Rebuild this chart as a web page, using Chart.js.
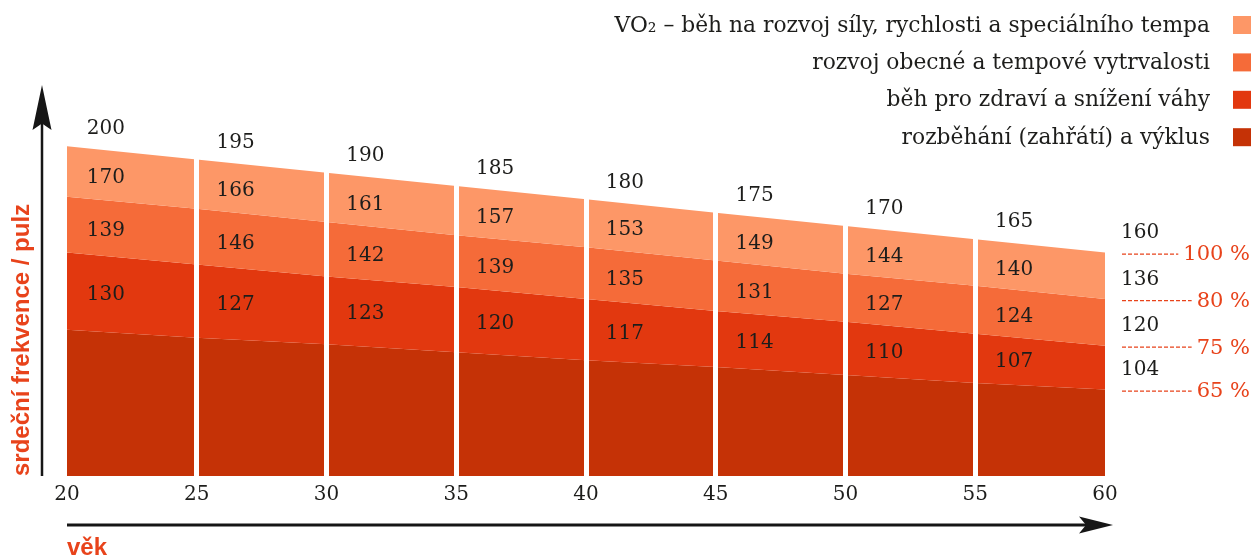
<!DOCTYPE html>
<html>
<head>
<meta charset="utf-8">
<script src="https://cdn.jsdelivr.net/npm/chart.js@4/dist/chart.umd.min.js"></script>
<style>
html,body{margin:0;padding:0;background:#fff;}
#wrap{width:1253px;height:560px;position:relative;}
</style>
</head>
<body>
<div id="wrap"><canvas id="c" width="1253" height="560"></canvas></div>
<script>
// ---- data ----
const ages = [20, 25, 30, 35, 40, 45, 50, 55, 60];
// printed heart-rate values per age
const maxHR = [200, 195, 190, 185, 180, 175, 170, 165, 160];
const hr85  = [170, 166, 161, 157, 153, 149, 144, 140, 136];
const hr75  = [139, 146, 142, 139, 135, 131, 127, 124, 120];
const hr65  = [130, 127, 123, 120, 117, 114, 110, 107, 104];
// drawn lower edges of the zones (estimated in pulse units of the drawing)
const edge85 = [181, 176.5, 171.5, 166.5, 162, 157, 152, 147.5, 142.5];
const edge75 = [160, 155.5, 151, 147, 142.5, 138, 134, 129.5, 125];
const edge65 = [131, 128, 125.5, 122.5, 119.5, 117, 114, 111, 108.5];
const percentLabels = ['100 %', '80 %', '75 %', '65 %'];
const zoneNames = [
  'VO\u2082 \u2013 běh na rozvoj síly, rychlosti a speciálního tempa',
  'rozvoj obecné a tempové vytrvalosti',
  'běh pro zdraví a snížení váhy',
  'rozběhání (zahřátí) a výklus'
];
const zoneColors = ['#FD9767', '#F56B39', '#E2380F', '#C53206'];
const yTitle = 'srdeční frekvence / pulz';
const xTitle = 'věk';

const ORANGE = '#E8431B';
const INK = '#1d1d1b';
const SERIF = '"DejaVu Serif", serif';
const SANS = '"Liberation Sans", Arial, sans-serif';

const pts = arr => ages.map((a, i) => ({x: a, y: arr[i]}));
const series = [maxHR, edge85, edge75, edge65];

const datasets = series.map((s, k) => ({
  label: zoneNames[k],
  data: pts(s),
  backgroundColor: zoneColors[k],
  borderColor: 'rgba(0,0,0,0)',
  borderWidth: 0,
  pointRadius: 0,
  tension: 0,
  fill: k < 3 ? '+1' : 'start'
}));

const decor = {
  id: 'decor',
  afterDraw(chart) {
    const {ctx, chartArea: a} = chart;
    const x = chart.scales.x, y = chart.scales.y;
    ctx.save();
    // y arrow
    ctx.fillStyle = '#161616';
    ctx.strokeStyle = '#161616';
    ctx.lineWidth = 2.5;
    const ax = 42;
    ctx.beginPath(); ctx.moveTo(ax, a.bottom); ctx.lineTo(ax, 115); ctx.stroke();
    ctx.beginPath();
    ctx.moveTo(ax, 85); ctx.lineTo(ax + 9.5, 130); ctx.lineTo(ax, 123.5); ctx.lineTo(ax - 9.5, 130);
    ctx.closePath(); ctx.fill();
    // x arrow
    const ay = 525;
    ctx.lineWidth = 3;
    ctx.beginPath(); ctx.moveTo(a.left, ay); ctx.lineTo(1090, ay); ctx.stroke();
    ctx.beginPath();
    ctx.moveTo(1113, ay); ctx.lineTo(1079, ay - 8.5); ctx.lineTo(1086, ay); ctx.lineTo(1079, ay + 8.5);
    ctx.closePath(); ctx.fill();

    // value labels
    ctx.font = '20px ' + SERIF;
    ctx.fillStyle = INK;
    ctx.textAlign = 'center';
    ctx.textBaseline = 'middle';
    const f = 1.5 / 5;
    for (let i = 0; i < ages.length - 1; i++) {
      const lerp = arr => arr[i] + (arr[i + 1] - arr[i]) * f;
      const px = x.getPixelForValue(ages[i] + 1.5);
      const t = y.getPixelForValue(lerp(maxHR));
      const e1 = y.getPixelForValue(lerp(edge85));
      const e2 = y.getPixelForValue(lerp(edge75));
      const e3 = y.getPixelForValue(lerp(edge65));
      ctx.fillText(String(maxHR[i]), px, t - 21);
      ctx.fillText(String(hr85[i]), px, (t + e1) / 2 + 3);
      ctx.fillText(String(hr75[i]), px, (e1 + e2) / 2 + 3);
      ctx.fillText(String(hr65[i]), px, (e2 + e3) / 2 + 1);
    }

    // right-hand labels at age 60
    const last = ages.length - 1;
    const rVals = [maxHR, hr85, hr75, hr65].map(s => s[last]);
    const rEdges = series.map(s => y.getPixelForValue(s[last]));
    for (let k = 0; k < 4; k++) {
      const ey = rEdges[k] + 1.5;
      ctx.font = '20px ' + SERIF;
      ctx.fillStyle = INK;
      ctx.textAlign = 'left';
      ctx.fillText(String(rVals[k]), 1121, ey - 21);
      ctx.font = '21px ' + SERIF;
      ctx.fillStyle = ORANGE;
      ctx.textAlign = 'right';
      ctx.fillText(percentLabels[k], 1250, ey + 1);
      const w = ctx.measureText(percentLabels[k]).width;
      ctx.strokeStyle = ORANGE;
      ctx.lineWidth = 1.3;
      ctx.setLineDash([4, 2]);
      ctx.beginPath(); ctx.moveTo(1122, ey); ctx.lineTo(1250 - w - 5, ey); ctx.stroke();
      ctx.setLineDash([]);
    }

    // legend
    ctx.font = '21.8px ' + SERIF;
    ctx.textAlign = 'right';
    chart.data.datasets.forEach((d, k) => {
      const cy = 25 + k * 37.4;
      ctx.fillStyle = d.backgroundColor;
      ctx.fillRect(1233, cy - 9, 18, 18);
      ctx.fillStyle = INK;
      ctx.fillText(d.label, 1210, cy + 1);
    });
    ctx.restore();
  }
};

new Chart(document.getElementById('c'), {
  type: 'line',
  data: {datasets},
  options: {
    responsive: false,
    animation: false,
    events: [],
    layout: {padding: {left: 0, top: 61, right: 148, bottom: 0}},
    plugins: {legend: {display: false}, tooltip: {enabled: false}},
    scales: {
      x: {
        type: 'linear', min: 20, max: 60, position: 'bottom',
        ticks: {stepSize: 5, padding: 7, color: INK, font: {family: SERIF, size: 20}},
        grid: {
          z: 1, drawTicks: false, lineWidth: 5,
          color: c => (c.tick && (c.tick.value === 20 || c.tick.value === 60)) ? 'rgba(0,0,0,0)' : '#ffffff'
        },
        border: {display: false},
        title: {display: true, text: xTitle, align: 'start', color: ORANGE,
          font: {family: SANS, size: 24, weight: 'bold', lineHeight: 1}, padding: {top: 22, bottom: 0}}
      },
      y: {
        min: 76, max: 232,
        grid: {display: false, drawTicks: false},
        border: {display: false},
        ticks: {display: false},
        title: {display: true, text: yTitle, align: 'start', color: ORANGE,
          font: {family: SANS, size: 24, weight: 'bold', lineHeight: 1}, padding: {top: 10, bottom: 33}}
      }
    }
  },
  plugins: [decor]
});
</script>
</body>
</html>
